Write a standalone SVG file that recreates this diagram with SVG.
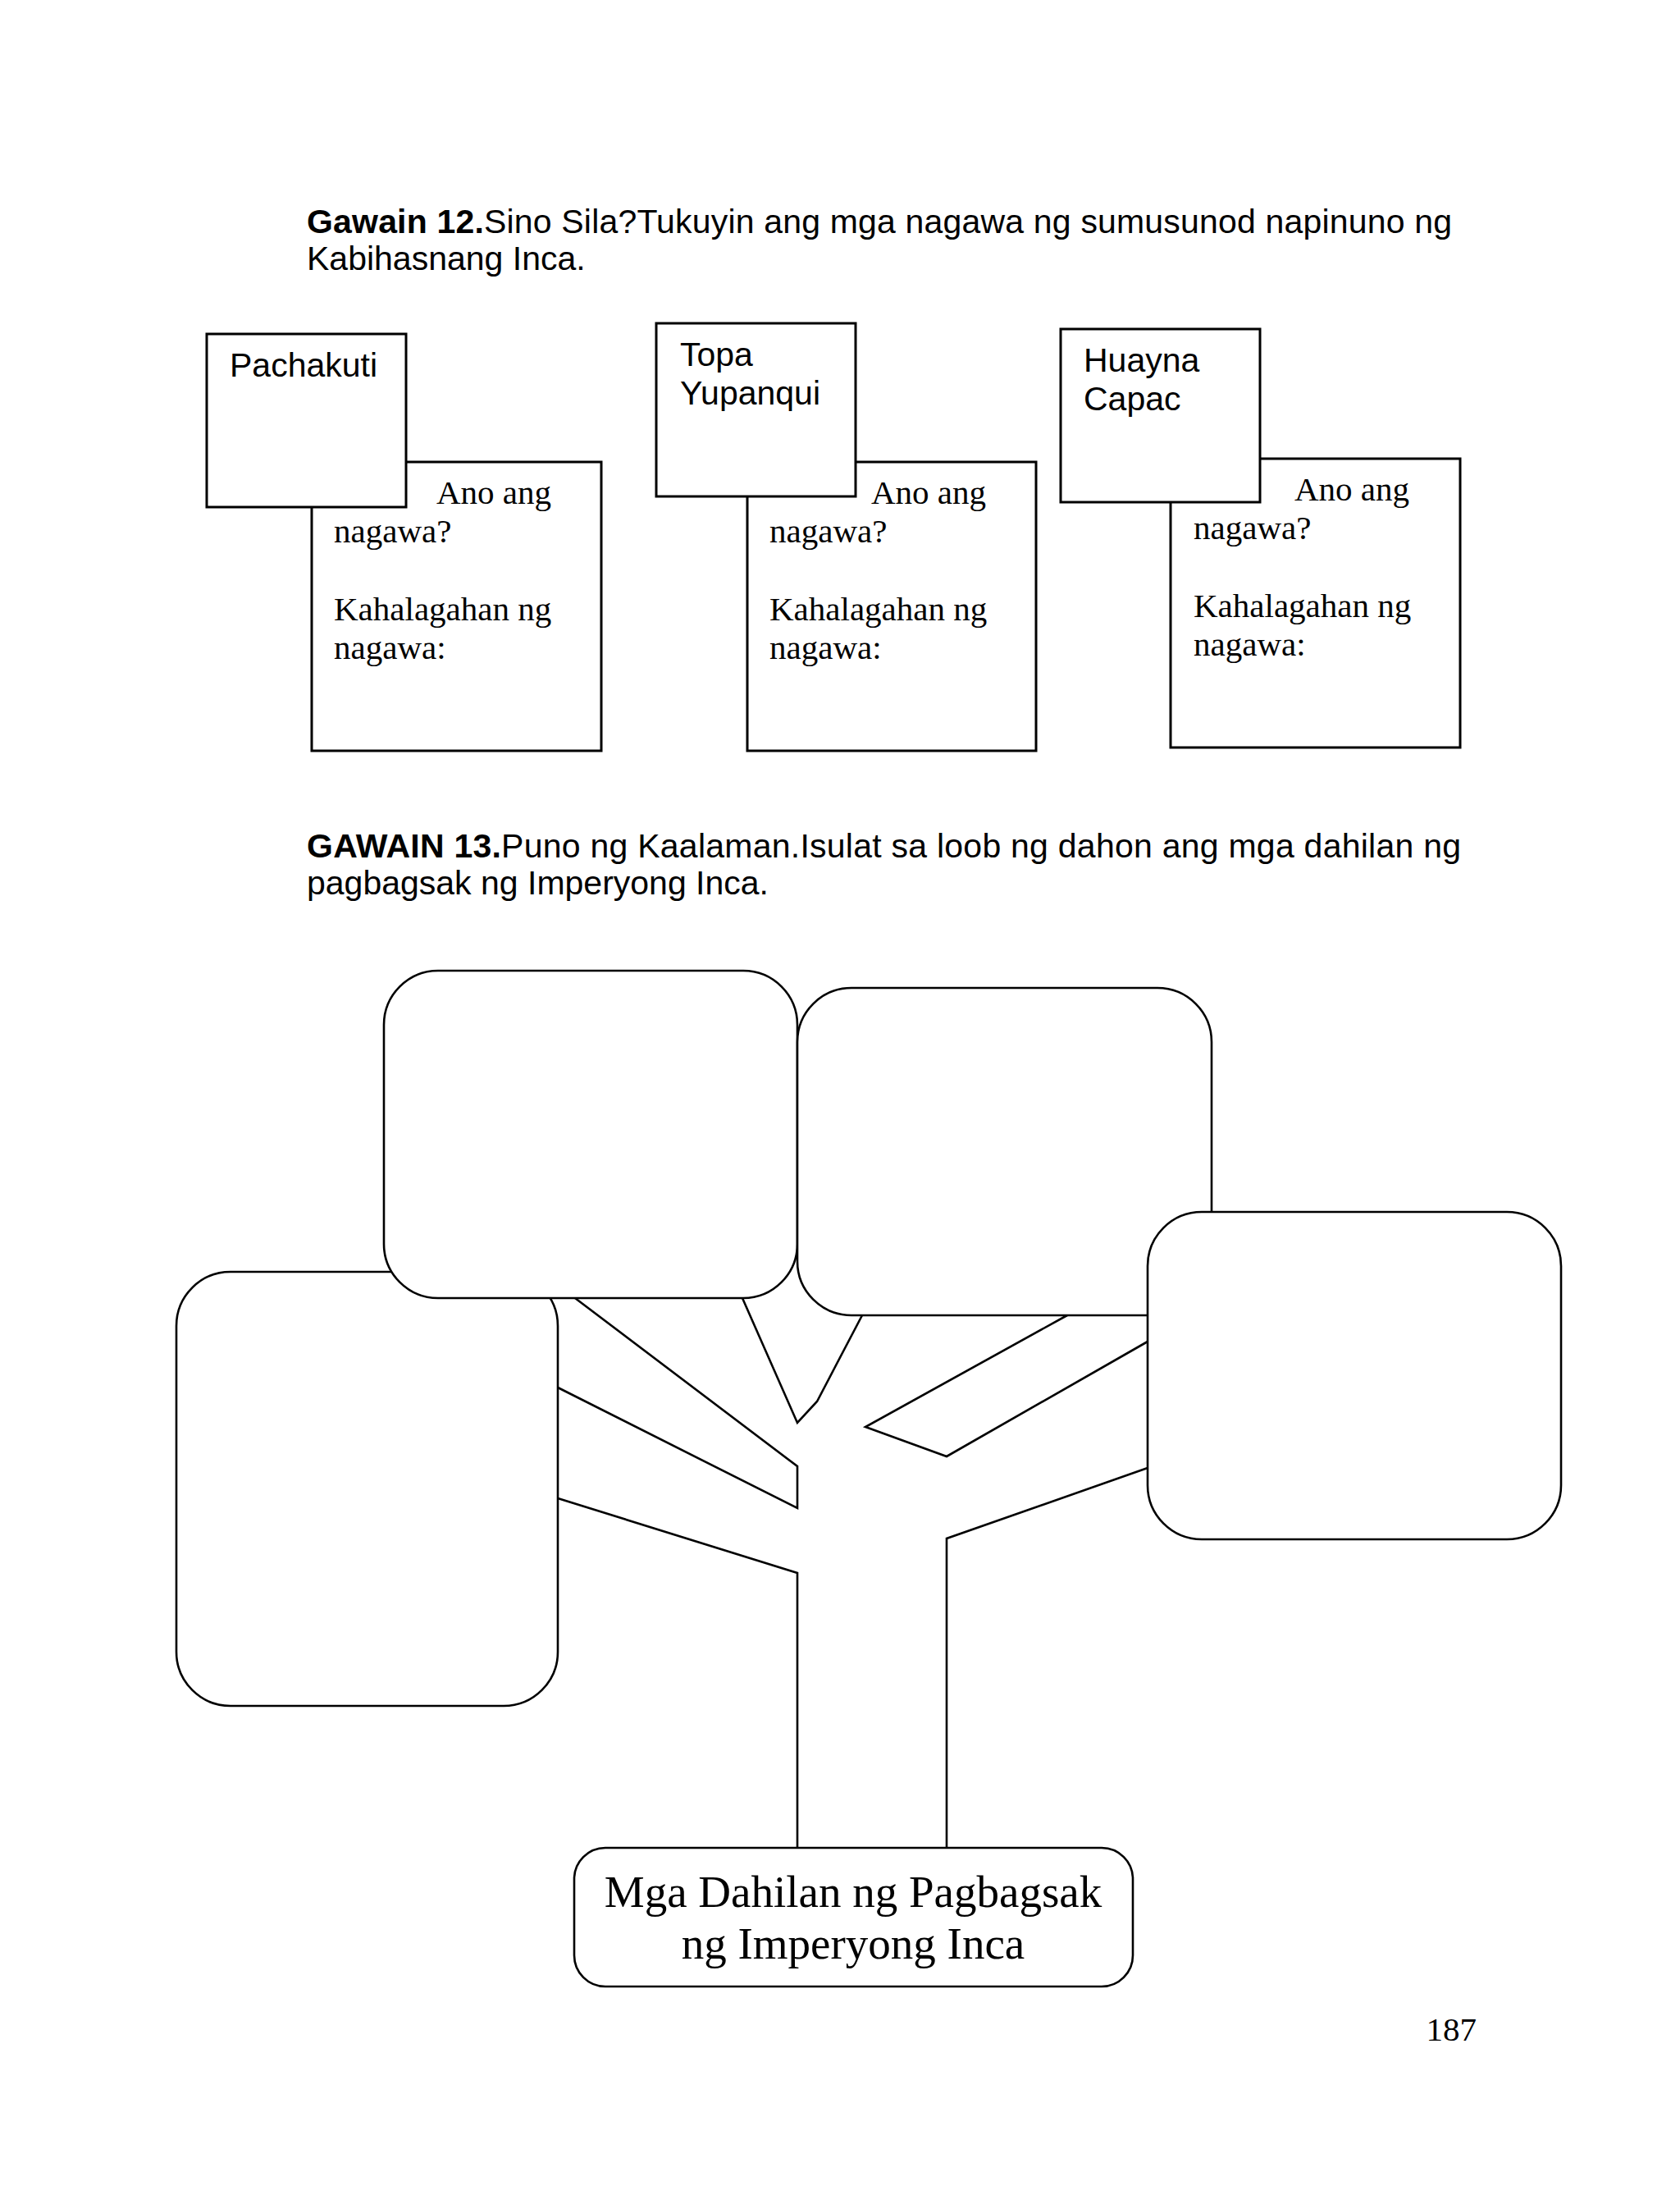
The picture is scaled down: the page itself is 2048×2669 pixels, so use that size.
<svg xmlns="http://www.w3.org/2000/svg" width="2048" height="2669" viewBox="0 0 2048 2669">
<style>
.sans{font-family:"Liberation Sans",Arial,sans-serif;font-size:41px;fill:#000}
.serif{font-family:"Liberation Serif","Times New Roman",serif;font-size:41px;fill:#000}
.big{font-family:"Liberation Serif","Times New Roman",serif;font-size:55px;fill:#000}
.box{fill:#fff;stroke:#000;stroke-width:3}
.leaf{fill:#fff;stroke:#000;stroke-width:2.6}
.branch{fill:none;stroke:#000;stroke-width:2.6;stroke-linejoin:miter}
</style>
<rect x="0" y="0" width="2048" height="2669" fill="#fff"/>

<g id="heading12">
<text class="sans" x="374" y="284" textLength="1396" lengthAdjust="spacing"><tspan font-weight="bold">Gawain 12.</tspan>Sino Sila?Tukuyin ang mga nagawa ng sumusunod napinuno ng</text>
<text class="sans" x="374" y="329">Kabihasnang Inca.</text>
</g>

<g id="answer-pachakuti">
<rect class="box" x="380" y="563" width="353" height="352"/>
<text class="serif" x="532" y="614">Ano ang</text>
<text class="serif" x="407" y="661">nagawa?</text>
<text class="serif" x="407" y="756">Kahalagahan ng</text>
<text class="serif" x="407" y="803">nagawa:</text>
</g>
<g id="name-pachakuti">
<rect class="box" x="252" y="407" width="243" height="211"/>
<text class="sans" x="280" y="459">Pachakuti</text>
</g>

<g id="answer-topa">
<rect class="box" x="911" y="563" width="352" height="352"/>
<text class="serif" x="1062" y="614">Ano ang</text>
<text class="serif" x="938" y="661">nagawa?</text>
<text class="serif" x="938" y="756">Kahalagahan ng</text>
<text class="serif" x="938" y="803">nagawa:</text>
</g>
<g id="name-topa">
<rect class="box" x="800" y="394" width="243" height="211"/>
<text class="sans" x="829" y="446">Topa</text>
<text class="sans" x="829" y="493">Yupanqui</text>
</g>

<g id="answer-huayna">
<rect class="box" x="1427" y="559" width="353" height="352"/>
<text class="serif" x="1578" y="610">Ano ang</text>
<text class="serif" x="1455" y="657">nagawa?</text>
<text class="serif" x="1455" y="752">Kahalagahan ng</text>
<text class="serif" x="1455" y="799">nagawa:</text>
</g>
<g id="name-huayna">
<rect class="box" x="1293" y="401" width="243" height="211"/>
<text class="sans" x="1321" y="453">Huayna</text>
<text class="sans" x="1321" y="500">Capac</text>
</g>

<g id="heading13">
<text class="sans" x="374" y="1045" textLength="1407" lengthAdjust="spacing"><tspan font-weight="bold">GAWAIN 13.</tspan>Puno ng Kaalaman.Isulat sa loob ng dahon ang mga dahilan ng</text>
<text class="sans" x="374" y="1090">pagbagsak ng Imperyong Inca.</text>
</g>

<g id="connectors">
<polyline class="branch" points="701,1582 972,1787 972,1838 680,1691"/>
<polyline class="branch" points="680,1826 972,1917 972,2252"/>
<polyline class="branch" points="905,1582 972,1734 996,1708 1051,1603"/>
<polyline class="branch" points="1301,1603 1055,1739 1154,1775 1399,1635"/>
<polyline class="branch" points="1399,1789 1154,1875 1154,2252"/>
</g>

<g id="leaf-left"><rect class="leaf" x="215" y="1550" width="465" height="529" rx="66" ry="66"/></g>
<g id="leaf-top-left"><rect class="leaf" x="468" y="1183" width="504" height="399" rx="66" ry="66"/></g>
<g id="leaf-top-middle"><rect class="leaf" x="972" y="1204" width="505" height="399" rx="66" ry="66"/></g>
<g id="leaf-right"><rect class="leaf" x="1399" y="1477" width="504" height="399" rx="66" ry="66"/></g>

<g id="root">
<rect class="leaf" x="700" y="2252" width="681" height="169" rx="38" ry="38"/>
<text class="big" x="1040" y="2324" text-anchor="middle">Mga Dahilan ng Pagbagsak</text>
<text class="big" x="1040" y="2387" text-anchor="middle">ng Imperyong Inca</text>
</g>

<text class="serif" x="1800" y="2487" text-anchor="end">187</text>
</svg>
